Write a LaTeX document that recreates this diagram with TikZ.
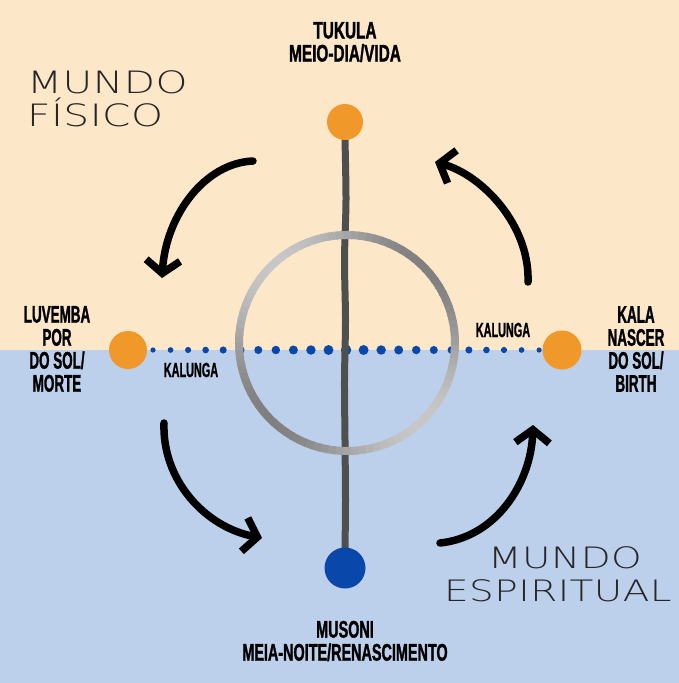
\documentclass[tikz,border=0pt]{standalone}
\usepackage{fontspec}
\usetikzlibrary{arrows.meta}
\newfontfamily\condA[FakeStretch=0.64,BoldFeatures={FakeBold=1.2}]{Liberation Sans}
\newfontfamily\condB[FakeStretch=0.56,BoldFeatures={FakeBold=1.2}]{Liberation Sans}
\newfontfamily\condC[FakeStretch=0.60,BoldFeatures={FakeBold=1.2}]{Liberation Sans}
\newfontfamily\condD[FakeStretch=0.53,BoldFeatures={FakeBold=1.0}]{Liberation Sans}
\newfontfamily\thinfont[UprightFont={* ExtraLight},FakeStretch=1.32,LetterSpace=1.5]{DejaVu Sans}
\definecolor{beige}{HTML}{FDE7C9}
\definecolor{skyblue}{HTML}{BDD0EB}
\definecolor{orangedot}{HTML}{F0982A}
\definecolor{bluedot}{HTML}{0A47AA}
\definecolor{stem}{HTML}{4F4F4F}
\tikzset{
  lbl/.style={font=#1\bfseries\fontsize{24}{23}\selectfont, align=center, text=black, inner sep=0pt},
  small/.style={font=\condD\bfseries\fontsize{20.5}{20}\selectfont, text=black, inner sep=0pt},
  world/.style={font=\thinfont\fontsize{#1}{33}\selectfont, align=left, text=black!85, inner sep=0pt},
  sundot/.style={circle, fill=orangedot, minimum size=#1, inner sep=0pt},
  cycle/.style={line width=7.5pt, black, line cap=round, -{Straight Barb[length=13pt,width=34pt,line width=7.5pt]}},
}
\begin{document}
\begin{tikzpicture}[x=1pt,y=-1pt]
\useasboundingbox (0,0) rectangle (679,683);
\fill[beige] (0,0) rectangle (679,350);
\fill[skyblue] (0,350) rectangle (679,683);
% dotted kalunga line
\foreach \i in {0,...,22}{
  \pgfmathsetmacro\xx{153+17.55*\i}
  \pgfmathsetmacro\rr{2.6+2.6*(1-abs(\i-11)/11)}
  \fill[bluedot] (\xx,350) circle (\rr);
}
% vertical stem
\draw[stem, line width=7pt, line cap=round] plot[smooth] coordinates {(345,140) (346,200) (344.5,260) (345.5,320) (344.5,380) (345,440) (345.5,500) (345,550)};
% ring
\foreach \a in {0,4,...,356}{
  \pgfmathsetmacro\m{36-14*sin(2*\a)}
  \draw[black!\m!white, line width=8pt, line cap=butt] (347,343) ++(\a:108) arc[start angle=\a, end angle=\a+5, radius=108];
}
% dots
\node[sundot=36pt] (tukula) at (345,122) {};
\node[sundot=38pt] (luvemba) at (128,350) {};
\node[sundot=39pt] (kala) at (562,350) {};
\node[circle, fill=bluedot, minimum size=41pt, inner sep=0pt] (musoni) at (345,568) {};
% arrows
\coordinate (a1s) at (253,161); \coordinate (a1e) at (162,278);
\coordinate (a2s) at (528,282); \coordinate (a2e) at (435,162);
\coordinate (a3s) at (164,423); \coordinate (a3e) at (262,538);
\coordinate (a4s) at (440,543); \coordinate (a4e) at (533,425);
\draw[cycle] (a1s) .. controls (205,163) and (166,215) .. (a1e);
\draw[cycle] (a2s) .. controls (530,225) and (482,175) .. (a2e);
\draw[cycle] (a3s) .. controls (162,480) and (205,527) .. (a3e);
\draw[cycle] (a4s) .. controls (497,537) and (531,482) .. (a4e);
% labels
\node[lbl=\condA] (t1) at (345,42) {TUKULA\\MEIO-DIA/VIDA};
\node[lbl=\condB] (t2) at (57,349) {LUVEMBA\\POR\\DO SOL/\\MORTE};
\node[lbl=\condB] (t3) at (636,349) {KALA\\NASCER\\DO SOL/\\BIRTH};
\node[lbl=\condC] (t4) at (345,641) {MUSONI\\MEIA-NOITE/RENASCIMENTO};
\node[small] (k1) at (191,370) {KALUNGA};
\node[small] (k2) at (503,330) {KALUNGA};
\node[world=30.8, anchor=north west] (mf) at (27,70) {MUNDO\\FÍSICO};
\node[world=29.5, anchor=north west] (me) at (444,546) {\hspace*{44pt}MUNDO\\ESPIRITUAL};
\end{tikzpicture}
\end{document}
